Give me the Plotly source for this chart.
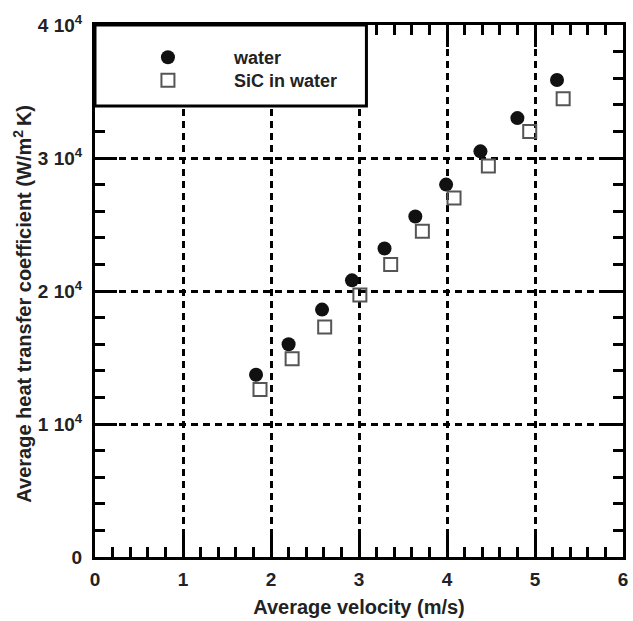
import plotly.graph_objects as go

# Data
water_v = [1.83, 2.20, 2.58, 2.92, 3.29, 3.64, 3.99, 4.38, 4.80, 5.25]
water_h = [13700, 16000, 18600, 20800, 23200, 25600, 28000, 30500, 33000, 35870]
sic_v = [1.875, 2.24, 2.61, 3.01, 3.36, 3.72, 4.08, 4.47, 4.94, 5.32]
sic_h = [12600, 14900, 17300, 19700, 22000, 24500, 27000, 29400, 32000, 34450]

x_ticks = [0, 1, 2, 3, 4, 5, 6]
y_ticks = [0, 10000, 20000, 30000, 40000]
y_ticktext = ["0", "1 10<sup>4</sup>", "2 10<sup>4</sup>", "3 10<sup>4</sup>", "4 10<sup>4</sup>"]

FONT = "Liberation Sans, Arial, sans-serif"
W, H = 633, 621
ML, MR, MT, MB = 95, 5, 25, 64
PW, PH = W - ML - MR, H - MT - MB

fig = go.Figure()
fig.add_trace(go.Scatter(
    x=water_v, y=water_h, mode="markers", name="water", legend="legend",
    marker=dict(symbol="circle", size=14, color="#111111", line=dict(width=0)),
))
fig.add_trace(go.Scatter(
    x=sic_v, y=sic_h, mode="markers", name="SiC in water", legend="legend2",
    marker=dict(symbol="square-open", size=13, color="#555555", line=dict(width=2, color="#555555")),
))

# legend box
fig.add_shape(type="rect", xref="paper", yref="paper",
              x0=0, x1=(369 - ML) / PW, y0=1 - (106 - MT) / PH, y1=1,
              line=dict(color="black", width=3), fillcolor="white", layer="above")

axis_common = dict(
    showline=True, linewidth=3, linecolor="black", mirror="ticks",
    ticks="inside", tickwidth=2.5, tickcolor="black", ticklen=22,
    showgrid=True, gridcolor="black", gridwidth=2.5, griddash="7px,5px",
    zeroline=False,
    tickfont=dict(family=FONT, size=19, color="#222222", weight="bold"),
)

fig.update_xaxes(
    range=[0, 6], tickmode="array", tickvals=x_ticks, ticktext=[str(v) for v in x_ticks],
    minor=dict(dtick=0.2, tick0=0, ticks="inside", ticklen=10, tickwidth=2.5, tickcolor="black", showgrid=False),
    ticklabelstandoff=3,
    title=dict(text="Average velocity (m/s)", font=dict(family=FONT, size=20, color="#222222", weight="bold"), standoff=12),
    **axis_common,
)
fig.update_yaxes(
    range=[0, 40000], tickmode="array", tickvals=y_ticks, ticktext=y_ticktext,
    minor=dict(dtick=2000, tick0=0, ticks="inside", ticklen=10, tickwidth=2.5, tickcolor="black", showgrid=False),
    ticklabelstandoff=6,
    **axis_common,
)

fig.add_annotation(
    xref="paper", yref="paper", x=(21 - ML) / PW, y=1 - (304 - MT) / PH,
    text="Average heat transfer coefficient (W/m<sup>2 </sup>K)", textangle=-90, showarrow=False,
    font=dict(family=FONT, size=20, color="#222222", weight="bold"), xanchor="center", yanchor="middle",
)

leg_common = dict(
    xanchor="left", yanchor="top",
    bgcolor="rgba(0,0,0,0)", borderwidth=0, itemwidth=122,
    font=dict(family=FONT, size=18, color="#222222", weight="bold"),
)
fig.update_layout(
    width=W, height=H,
    margin=dict(l=ML, r=MR, t=MT, b=MB, pad=0),
    paper_bgcolor="white", plot_bgcolor="white",
    showlegend=True,
    legend=dict(x=(102 - ML) / PW, y=1 - (39 - MT) / PH, **leg_common),
    legend2=dict(x=(102 - ML) / PW, y=1 - (62 - MT) / PH, **leg_common),
)

fig.write_html("out.html")
